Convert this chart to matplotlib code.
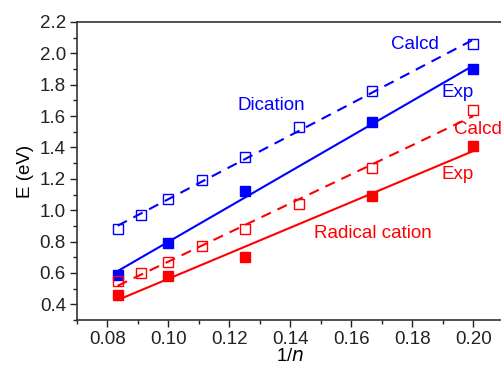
import numpy as np
import matplotlib
matplotlib.use("Agg")
import matplotlib.pyplot as plt
from matplotlib.ticker import MultipleLocator

plt.rcParams['font.family'] = ['Liberation Sans', 'DejaVu Sans']

# 1/n values (n = 12 ... 5)
x_calcd = [1/12, 1/11, 1/10, 1/9, 1/8, 1/7, 1/6, 1/5]
x_exp = [1/12, 1/10, 1/8, 1/6, 1/5]

dication_calcd = [0.88, 0.97, 1.07, 1.19, 1.34, 1.53, 1.76, 2.06]
dication_exp = [0.59, 0.79, 1.12, 1.56, 1.90]
radical_calcd = [0.55, 0.60, 0.67, 0.77, 0.88, 1.04, 1.27, 1.64]
radical_exp = [0.46, 0.58, 0.70, 1.09, 1.41]

blue = '#0000ff'
red = '#ff0000'
fs = 13.5

fig = plt.figure(figsize=(5.02, 3.66), dpi=100)
ax = fig.add_axes([0.1534, 0.1257, 0.85, 0.8142])

def fit_line(xs, ys):
    k, b = np.polyfit(xs, ys, 1)
    xx = np.array([min(xs), max(xs)])
    return xx, k * xx + b

# dication
xx, yy = fit_line(x_calcd, dication_calcd)
ax.plot(xx, yy, color=blue, lw=1.5, dashes=(5, 3.5))
ax.plot(x_calcd, dication_calcd, 's', mfc='none', mec=blue, mew=1.0, ms=7.5)
xx, yy = fit_line(x_exp, dication_exp)
ax.plot(xx, yy, color=blue, lw=1.5)
ax.plot(x_exp, dication_exp, 's', color=blue, ms=7.5)

# radical cation
xx, yy = fit_line(x_calcd, radical_calcd)
ax.plot(xx, yy, color=red, lw=1.5, dashes=(5, 3.5))
ax.plot(x_calcd, radical_calcd, 's', mfc='none', mec=red, mew=1.0, ms=7.5)
xx, yy = fit_line(x_exp, radical_exp)
ax.plot(xx, yy, color=red, lw=1.5)
ax.plot(x_exp, radical_exp, 's', color=red, ms=7.5)

# labels on the plot
ax.text(0.181, 2.056, 'Calcd', color=blue, fontsize=fs, ha='center', va='center')
ax.text(0.1948, 1.75, 'Exp', color=blue, fontsize=fs, ha='center', va='center')
ax.text(0.1338, 1.67, 'Dication', color=blue, fontsize=fs, ha='center', va='center')
ax.text(0.2015, 1.515, 'Calcd', color=red, fontsize=fs, ha='center', va='center')
ax.text(0.1948, 1.23, 'Exp', color=red, fontsize=fs, ha='center', va='center')
ax.text(0.167, 0.85, 'Radical cation', color=red, fontsize=fs, ha='center', va='center')

ax.set_xlim(0.07, 0.21)
ax.set_ylim(0.3, 2.2)
ax.xaxis.set_major_locator(MultipleLocator(0.02))
ax.xaxis.set_minor_locator(MultipleLocator(0.01))
ax.yaxis.set_major_locator(MultipleLocator(0.2))
ax.yaxis.set_minor_locator(MultipleLocator(0.1))
ax.xaxis.set_major_formatter(plt.FormatStrFormatter('%.2f'))
ax.yaxis.set_major_formatter(plt.FormatStrFormatter('%.1f'))
ax.tick_params(which='both', direction='out', labelsize=fs, width=1, colors='#222222')
ax.tick_params(which='major', length=5)
ax.tick_params(which='minor', length=3)
ax.tick_params(axis='x', pad=3)
ax.tick_params(axis='y', pad=3)
for s in ax.spines.values():
    s.set_linewidth(1.2)
    s.set_color('#333333')

ax.set_xlabel('1/$\\mathit{n}$', fontsize=fs, labelpad=0)
ax.set_ylabel('E (eV)', fontsize=fs, labelpad=4)

fig.savefig('out.png', dpi=100)
